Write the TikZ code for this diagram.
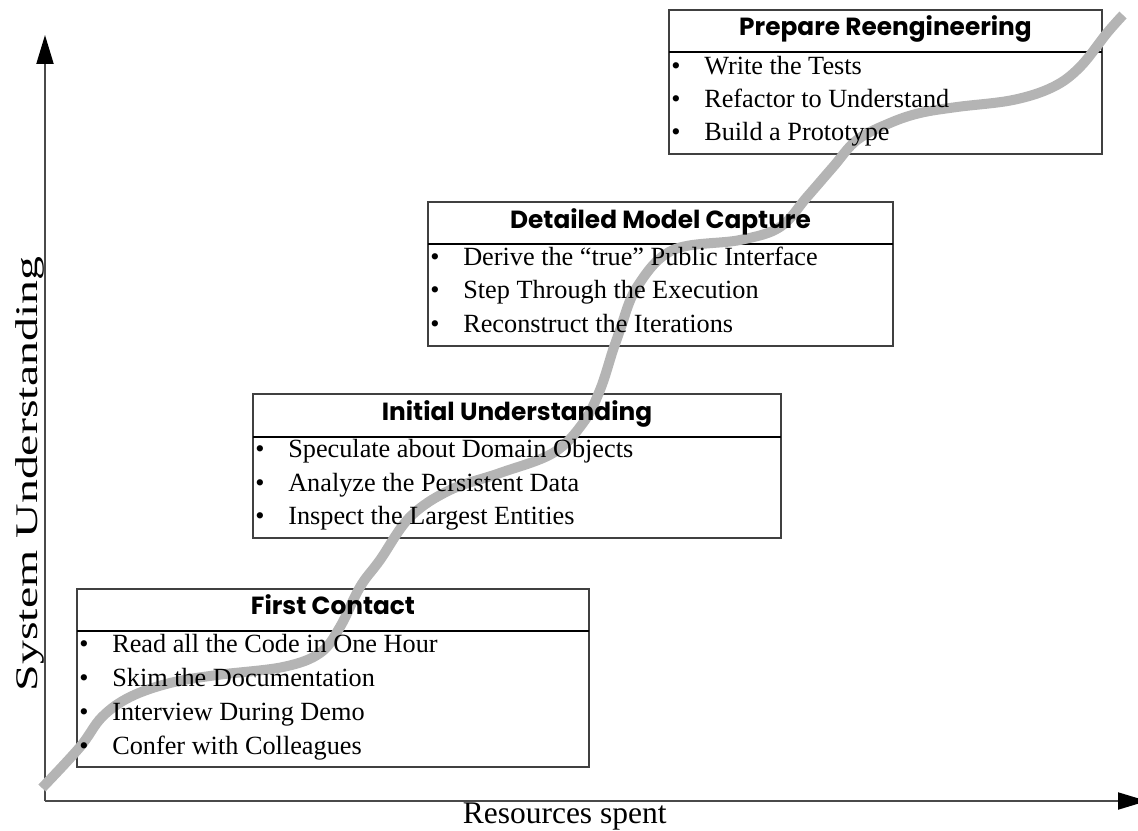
\documentclass[tikz,border=0pt]{standalone}
\usepackage{fontspec}
\setmainfont{Liberation Serif}
\newfontfamily\hdfont{Poppins}
\usetikzlibrary{arrows.meta}
\definecolor{boxgray}{HTML}{404040}
\definecolor{axisgray}{HTML}{4A4A4A}
\definecolor{curvegray}{HTML}{B4B4B4}
\begin{document}
\begin{tikzpicture}[x=0.75pt,y=-0.75pt,
  frame/.style={draw=boxgray, line width=1.5pt},
  sepline/.style={draw=black, line width=1.1pt},
  hd/.style={anchor=base, inner sep=0pt, font=\hdfont\bfseries\fontsize{18.6}{19}\selectfont},
  item/.style={anchor=base west, inner sep=0pt, font=\fontsize{19.7}{20}\selectfont},
  bul/.style={anchor=base west, inner sep=0pt, font=\fontsize{19.7}{20}\selectfont},
  axislabel/.style={anchor=base, inner sep=0pt, font=\fontsize{23.6}{24}\selectfont},
  axisline/.style={draw=axisgray, line width=1.5pt, -{Triangle[length=21.75pt,width=12.75pt,color=black]}},
  curve/.style={draw=curvegray, line width=7.5pt, line join=round}
]
\useasboundingbox (0,0) rectangle (1138,831);

% axes
\coordinate (origin) at (45,801);
\coordinate (ytip) at (45,35);
\coordinate (xtip) at (1147,801);
\draw[axisline] (origin) -- (ytip);
\draw[axisline] (origin) -- (xtip);

% box frames
\coordinate (p1nw) at (669,10);  \coordinate (p1se) at (1102,154);
\coordinate (p1sl) at (669,52);  \coordinate (p1sr) at (1102,52);
\coordinate (p2nw) at (428,202); \coordinate (p2se) at (893,346);
\coordinate (p2sl) at (428,244); \coordinate (p2sr) at (893,244);
\coordinate (p3nw) at (253,394); \coordinate (p3se) at (781,538);
\coordinate (p3sl) at (253,437); \coordinate (p3sr) at (781,437);
\coordinate (p4nw) at (77,589);  \coordinate (p4se) at (589,767);
\coordinate (p4sl) at (77,631);  \coordinate (p4sr) at (589,631);
\foreach \b in {p1,p2,p3,p4}{
  \draw[frame] (\b nw) rectangle (\b se);
  \draw[sepline] (\b sl) -- (\b sr);
}

% curve
\draw[curve] plot[smooth, tension=0.6] coordinates {
(42,788) (80,747) (102,717) (130,697) (170,683) (217,675) (283,667)
(320,653) (340,627) (360,587) (380,560) (410,517) (450,490) (500,473)
(553,453) (583,423) (600,390) (613,350) (620,330) (637,287) (673,250)
(740,240) (780,227) (807,197) (833,167) (857,140) (890,123) (920,113)
(957,107) (1013,100) (1053,87) (1080,67) (1107,33) (1123,15)};

% box 1
\node[hd] (h1) at (885.5,36) {Prepare Reengineering};
\node[bul] (b11) at (671,75) {\textbullet};
\node[item] (t11) at (704,75) {Write the Tests};
\node[bul] (b12) at (671,108) {\textbullet};
\node[item] (t12) at (704,108) {Refactor to Understand};
\node[bul] (b13) at (671,141) {\textbullet};
\node[item] (t13) at (704,141) {Build a Prototype};

% box 2
\node[hd] (h2) at (660.5,228) {Detailed Model Capture};
\node[bul] (b21) at (430,265) {\textbullet};
\node[item] (t21) at (463,265) {Derive the ``true'' Public Interface};
\node[bul] (b22) at (430,298.5) {\textbullet};
\node[item] (t22) at (463,298.5) {Step Through the Execution};
\node[bul] (b23) at (430,332) {\textbullet};
\node[item] (t23) at (463,332) {Reconstruct the Iterations};

% box 3
\node[hd] (h3) at (517,420) {Initial Understanding};
\node[bul] (b31) at (255,457) {\textbullet};
\node[item] (t31) at (288,457) {Speculate about Domain Objects};
\node[bul] (b32) at (255,491) {\textbullet};
\node[item] (t32) at (288,491) {Analyze the Persistent Data};
\node[bul] (b33) at (255,524.5) {\textbullet};
\node[item] (t33) at (288,524.5) {Inspect the Largest Entities};

% box 4
\node[hd] (h4) at (333,614.5) {First Contact};
\node[bul] (b41) at (79,652) {\textbullet};
\node[item] (t41) at (112,652) {Read all the Code in One Hour};
\node[bul] (b42) at (79,686.5) {\textbullet};
\node[item] (t42) at (112,686.5) {Skim the Documentation};
\node[bul] (b43) at (79,720.5) {\textbullet};
\node[item] (t43) at (112,720.5) {Interview During Demo};
\node[bul] (b44) at (79,754.5) {\textbullet};
\node[item] (t44) at (112,754.5) {Confer with Colleagues};

% axis labels
\node[axislabel] (xl) at (564.7,823) {Resources spent};
\node[axislabel, rotate=90] (yl) at (37,474) {\scalebox{1.52}[1]{System Understanding}};
\end{tikzpicture}
\end{document}
